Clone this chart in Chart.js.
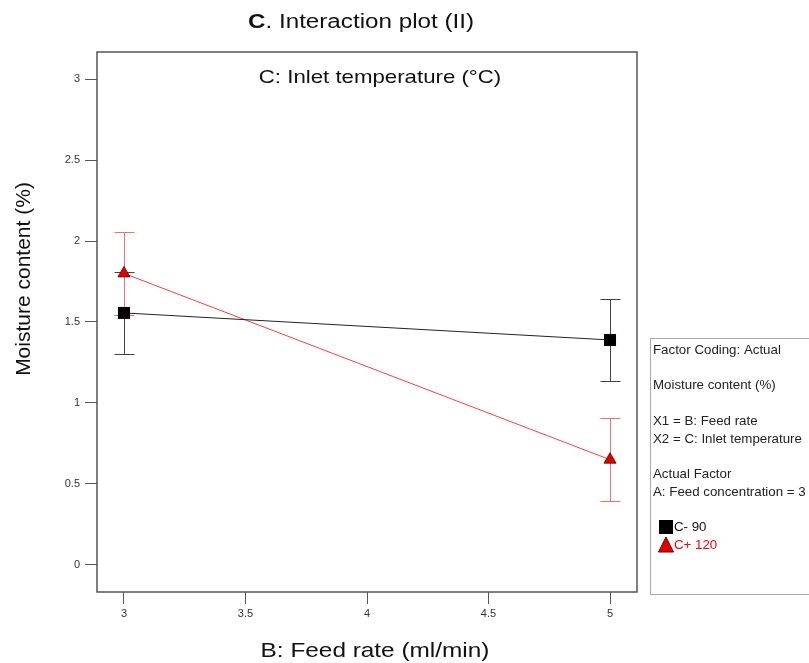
<!DOCTYPE html>
<html>
<head>
<meta charset="utf-8">
<script src="https://cdn.jsdelivr.net/npm/chart.js@4.4.1/dist/chart.umd.min.js"></script>
<style>
  html, body { margin: 0; padding: 0; background: #fff; }
  #wrap { width: 809px; height: 663px; }
</style>
</head>
<body>
<div id="wrap"><canvas id="chart" width="809" height="663"></canvas></div>
<script>
// Feed rate levels (x) and moisture content for each inlet temperature
var feedRate = [3, 5];
var lowTemp = [1.556, 1.389];      // C- 90
var lowTempErr = [0.252, 0.255];
var highTemp = [1.80, 0.65];       // C+ 120
var highTempErr = [0.255, 0.255];
var seriesNames = ['C- 90', 'C+ 120'];
var infoLines = [
  'Factor Coding: Actual', '',
  'Moisture content (%)', '',
  'X1 = B: Feed rate',
  'X2 = C: Inlet temperature', '',
  'Actual Factor',
  'A: Feed concentration = 3'
];

var FONT = '"Liberation Sans", Arial, sans-serif';

function points(ys, errs) {
  return feedRate.map(function(x, i) {
    return { x: x, y: ys[i], err: errs[i] };
  });
}

// text a bit wider than the font, like the original export
function wideText(ctx, parts, cx, cy, stretch) {
  var total = 0;
  parts.forEach(function(p) { ctx.font = p.font; p.w = ctx.measureText(p.text).width; total += p.w; });
  ctx.save();
  ctx.translate(cx, cy);
  ctx.scale(stretch, 1);
  ctx.textAlign = 'left';
  ctx.textBaseline = 'middle';
  var x = -total / 2;
  parts.forEach(function(p) { ctx.font = p.font; ctx.fillText(p.text, x, 0); x += p.w; });
  ctx.restore();
}

// error bars, drawn under the markers
var errorBars = {
  id: 'errorBars',
  beforeDatasetsDraw: function(chart) {
    var ctx = chart.ctx, xs = chart.scales.x, ys = chart.scales.y;
    chart.data.datasets.forEach(function(ds) {
      ctx.save();
      ctx.strokeStyle = ds.errColor;
      ctx.lineWidth = 1;
      ds.data.forEach(function(p) {
        var px = Math.round(xs.getPixelForValue(p.x)) + 0.5;
        var top = Math.round(ys.getPixelForValue(p.y + p.err)) + 0.5;
        var bot = Math.round(ys.getPixelForValue(p.y - p.err)) + 0.5;
        ctx.beginPath();
        ctx.moveTo(px, top); ctx.lineTo(px, bot);
        ctx.moveTo(px - 10, top); ctx.lineTo(px + 10, top);
        ctx.moveTo(px - 10, bot); ctx.lineTo(px + 10, bot);
        ctx.stroke();
      });
      ctx.restore();
    });
  }
};

// frame, titles and the info box on the right
var decor = {
  id: 'decor',
  afterDraw: function(chart) {
    var ctx = chart.ctx, a = chart.chartArea;
    ctx.save();
    ctx.strokeStyle = '#555';
    ctx.lineWidth = 1.5;
    ctx.strokeRect(a.left, a.top, a.right - a.left, a.bottom - a.top);

    ctx.fillStyle = '#111';
    wideText(ctx, [{ text: 'C', font: 'bold 20px ' + FONT },
                   { text: '. Interaction plot (II)', font: '20px ' + FONT }], 361, 22, 1.21);
    wideText(ctx, [{ text: 'C: Inlet temperature (\u00b0C)', font: '19px ' + FONT }], 380, 78, 1.17);
    wideText(ctx, [{ text: 'B: Feed rate (ml/min)', font: '21px ' + FONT }], 375, 651, 1.16);

    ctx.save();
    ctx.translate(24, 279);
    ctx.rotate(-Math.PI / 2);
    ctx.textAlign = 'center';
    ctx.textBaseline = 'middle';
    ctx.font = '21px ' + FONT;
    ctx.fillText('Moisture content (%)', 0, 0);
    ctx.restore();

    // info box
    ctx.strokeStyle = '#aaa';
    ctx.lineWidth = 1;
    ctx.strokeRect(650.5, 338.5, 170, 256);
    ctx.fillStyle = '#222';
    ctx.textAlign = 'left';
    ctx.textBaseline = 'middle';
    ctx.font = '13.3px ' + FONT;
    var y = 350;
    infoLines.forEach(function(line) {
      if (line) ctx.fillText(line, 653, y);
      y += 17.8;
    });

    // series legend
    var ds = chart.data.datasets;
    ctx.fillStyle = ds[0].backgroundColor;
    ctx.fillRect(659, 520, 14, 14);
    ctx.fillStyle = '#111';
    ctx.fillText(seriesNames[0], 674, 527);
    ctx.beginPath();
    ctx.moveTo(666, 537); ctx.lineTo(673.5, 552); ctx.lineTo(658.5, 552);
    ctx.closePath();
    ctx.fillStyle = ds[1].backgroundColor;
    ctx.fill();
    ctx.strokeStyle = '#600';
    ctx.stroke();
    ctx.fillStyle = '#f00';
    ctx.fillText(seriesNames[1], 674, 545);
    ctx.restore();
  }
};

function tickLabel(v) {
  return String(Math.round(v * 10) / 10);
}

new Chart(document.getElementById('chart'), {
  type: 'scatter',
  data: {
    datasets: [{
      label: seriesNames[0],
      data: points(lowTemp, lowTempErr),
      showLine: true,
      borderColor: '#222',
      borderWidth: 1,
      backgroundColor: '#000',
      pointStyle: 'rect',
      pointRadius: 8.5,
      pointHoverRadius: 8.5,
      pointBorderColor: '#000',
      pointBorderWidth: 0,
      errColor: '#444'
    }, {
      label: seriesNames[1],
      data: points(highTemp, highTempErr),
      showLine: true,
      borderColor: '#ff4040',
      borderWidth: 1,
      backgroundColor: '#e00000',
      pointStyle: 'triangle',
      pointRadius: 7,
      pointHoverRadius: 7,
      pointBorderColor: '#500',
      pointBorderWidth: 0.8,
      errColor: '#ff6a6a'
    }]
  },
  options: {
    responsive: false,
    animation: false,
    events: [],
    layout: { padding: { left: 0, top: 52, right: 172, bottom: 0 } },
    plugins: { legend: { display: false }, tooltip: { enabled: false } },
    scales: {
      x: {
        type: 'linear',
        min: 2.889,
        max: 5.111,
        afterFit: function(s) { s.height = 71; },
        ticks: { stepSize: 0.5, includeBounds: false, color: '#333', padding: 3,
                 callback: tickLabel, font: { family: FONT, size: 11 } },
        grid: { drawOnChartArea: false, drawTicks: true, tickLength: 12, color: '#555' },
        border: { display: false }
      },
      y: {
        type: 'linear',
        min: -0.167,
        max: 3.167,
        afterFit: function(s) { s.width = 97; },
        ticks: { stepSize: 0.5, includeBounds: false, color: '#333', padding: 5,
                 callback: tickLabel, font: { family: FONT, size: 11 } },
        grid: { drawOnChartArea: false, drawTicks: true, tickLength: 12, color: '#555' },
        border: { display: false }
      }
    }
  },
  plugins: [errorBars, decor]
});
</script>
</body>
</html>
